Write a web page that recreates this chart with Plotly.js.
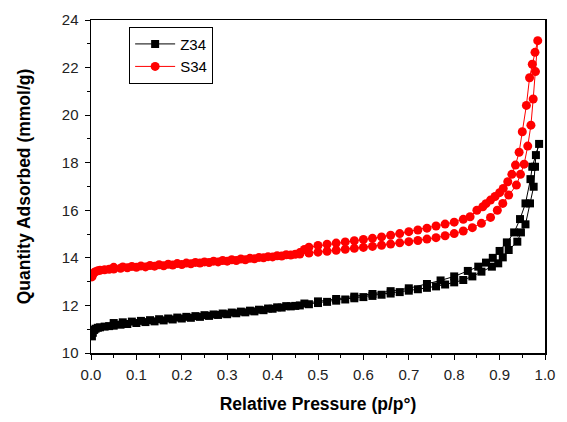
<!DOCTYPE html>
<html>
<head>
<meta charset="utf-8">
<script src="https://cdn.plot.ly/plotly-3.0.1.min.js"></script>
<style>
html,body{margin:0;padding:0;background:#fff;}
#chart{width:567px;height:422px;}
</style>
</head>
<body>
<div id="chart"></div>
<script>
// Z34 adsorption branch
const z34AdsP = [0.002,0.004,0.007,0.01,0.015,0.02,0.03,0.04,0.05,0.065,0.08,0.1,0.12,0.14,0.16,0.18,0.2,0.22,0.24,0.26,0.28,0.3,0.32,0.34,0.36,0.38,0.4,0.42,0.44,0.46,0.48,0.5,0.52,0.54,0.56,0.58,0.6,0.62,0.64,0.66,0.68,0.7,0.72,0.74,0.76,0.78,0.8,0.82,0.84,0.86,0.883,0.897,0.907,0.92,0.939,0.947,0.957,0.967,0.975,0.978,0.98,0.987];
const z34AdsQ = [10.7,10.85,10.97,11.02,11.06,11.08,11.11,11.13,11.15,11.19,11.22,11.26,11.3,11.33,11.37,11.41,11.45,11.48,11.52,11.56,11.6,11.63,11.67,11.71,11.75,11.8,11.86,11.91,11.96,12.0,12.05,12.1,12.15,12.2,12.25,12.3,12.35,12.4,12.45,12.5,12.56,12.62,12.68,12.74,12.8,12.88,12.97,13.07,13.22,13.42,13.63,13.77,14.02,14.33,14.68,15.07,15.41,16.29,16.99,17.83,18.32,18.79];
// Z34 desorption branch
const z34DesP = [0.972,0.968,0.957,0.945,0.932,0.916,0.9,0.885,0.87,0.853,0.83,0.8,0.77,0.74,0.7,0.66,0.62,0.58,0.54,0.5,0.47,0.45,0.43,0.41,0.39,0.37,0.35,0.33,0.31,0.29,0.27,0.25,0.23,0.21,0.19,0.17,0.15,0.13,0.11,0.09,0.07,0.05];
const z34DesQ = [17.83,17.31,16.29,15.63,15.07,14.65,14.29,14.0,13.8,13.63,13.45,13.22,13.05,12.9,12.72,12.6,12.48,12.37,12.27,12.17,12.08,11.98,11.97,11.92,11.87,11.82,11.78,11.74,11.7,11.66,11.62,11.59,11.55,11.52,11.49,11.45,11.42,11.38,11.35,11.32,11.29,11.26];
// S34 adsorption branch
const s34AdsP = [0.002,0.004,0.007,0.01,0.015,0.02,0.03,0.04,0.05,0.065,0.08,0.1,0.12,0.14,0.16,0.18,0.2,0.22,0.24,0.26,0.28,0.3,0.32,0.34,0.36,0.38,0.4,0.42,0.44,0.46,0.48,0.5,0.52,0.54,0.56,0.58,0.6,0.62,0.64,0.66,0.68,0.7,0.72,0.74,0.76,0.78,0.8,0.82,0.84,0.86,0.88,0.895,0.907,0.92,0.937,0.946,0.954,0.962,0.969,0.974,0.979,0.984];
const s34AdsQ = [13.2,13.3,13.38,13.42,13.46,13.48,13.5,13.52,13.53,13.56,13.58,13.6,13.62,13.65,13.67,13.7,13.72,13.75,13.78,13.8,13.83,13.86,13.89,13.92,13.96,14.0,14.04,14.08,14.12,14.16,14.2,14.24,14.28,14.32,14.36,14.4,14.44,14.48,14.53,14.58,14.63,14.68,14.73,14.79,14.85,14.93,15.02,15.13,15.27,15.45,15.7,16.0,16.29,16.64,17.06,17.51,17.94,18.7,19.58,20.68,21.83,23.13];
// S34 desorption branch
const s34DesP = [0.978,0.972,0.966,0.959,0.95,0.943,0.935,0.927,0.918,0.908,0.9,0.89,0.88,0.87,0.863,0.85,0.835,0.82,0.8,0.78,0.76,0.74,0.72,0.7,0.68,0.66,0.64,0.62,0.6,0.58,0.56,0.54,0.52,0.5,0.48,0.47,0.46,0.45,0.43,0.41,0.39,0.37,0.35,0.33,0.31,0.29,0.27,0.25,0.23,0.21,0.19,0.17,0.15,0.13,0.11,0.09,0.07,0.05];
const s34DesQ = [22.64,22.14,21.57,20.41,19.3,18.44,17.9,17.51,17.2,16.92,16.74,16.58,16.43,16.28,16.15,16.0,15.73,15.62,15.5,15.42,15.34,15.25,15.17,15.1,15.02,14.95,14.88,14.82,14.77,14.72,14.67,14.62,14.57,14.52,14.45,14.35,14.22,14.15,14.13,14.09,14.05,14.02,13.98,13.95,13.92,13.89,13.86,13.83,13.81,13.78,13.76,13.73,13.71,13.68,13.66,13.64,13.62,13.6];

const seriesNames = ['Z34','S34'];
const xTickVals = [0,0.1,0.2,0.3,0.4,0.5,0.6,0.7,0.8,0.9,1.0];
const xTickText = ['0.0','0.1','0.2','0.3','0.4','0.5','0.6','0.7','0.8','0.9','1.0'];
const yTickVals = [10,12,14,16,18,20,22,24];

const font = 'Arial, "Liberation Sans", sans-serif';

const traces = [
  {
    x: z34AdsP.concat(z34DesP), y: z34AdsQ.concat(z34DesQ),
    name: seriesNames[0], type: 'scatter', mode: 'lines+markers',
    line: {color: '#000000', width: 1},
    marker: {symbol: 'square', size: 8, color: '#000000'}
  },
  {
    x: s34AdsP.concat(s34DesP), y: s34AdsQ.concat(s34DesQ),
    name: seriesNames[1], type: 'scatter', mode: 'lines+markers',
    line: {color: '#ff0000', width: 1},
    marker: {symbol: 'circle', size: 9, color: '#ff0000'}
  }
];

const layout = {
  width: 567, height: 422,
  margin: {l: 91, r: 22, t: 20, b: 69},
  paper_bgcolor: '#ffffff', plot_bgcolor: '#ffffff',
  font: {family: font, size: 15, color: '#000'},
  showlegend: true,
  legend: {
    x: 0.084, y: 0.98, xanchor: 'left', yanchor: 'top',
    bordercolor: '#000', borderwidth: 1, bgcolor: '#fff',
    font: {family: font, size: 15, color: '#000'},
    tracegroupgap: 0, itemwidth: 40
  },
  xaxis: {
    range: [0, 1.0], tickvals: xTickVals, ticktext: xTickText,
    ticks: 'outside', ticklen: 5, tickwidth: 1, tickcolor: '#000',
    ticklabelstandoff: 2,
    minor: {dtick: 0.05, ticks: 'outside', ticklen: 3, tickcolor: '#000', tickwidth: 1},
    showline: true, linecolor: '#000', linewidth: 1.5, mirror: true,
    showgrid: false, zeroline: false,
    tickfont: {family: font, size: 15, color: '#222'},
    title: {text: 'Relative Pressure (p/p°)', font: {family: font, size: 17.5, color: '#000', weight: 'bold'}, standoff: 16}
  },
  yaxis: {
    range: [10, 24], tickvals: yTickVals,
    ticks: 'outside', ticklen: 5, tickwidth: 1, tickcolor: '#000',
    ticklabelstandoff: 3,
    minor: {dtick: 1, ticks: 'outside', ticklen: 3, tickcolor: '#000', tickwidth: 1},
    showline: true, linecolor: '#000', linewidth: 1.5, mirror: true,
    showgrid: false, zeroline: false,
    tickfont: {family: font, size: 15, color: '#222'},
    title: {text: 'Quantity Adsorbed (mmol/g)', font: {family: font, size: 17.5, color: '#000', weight: 'bold'}, standoff: 26}
  }
};

Plotly.newPlot('chart', traces, layout, {staticPlot: true, displayModeBar: false});
</script>
</body>
</html>
